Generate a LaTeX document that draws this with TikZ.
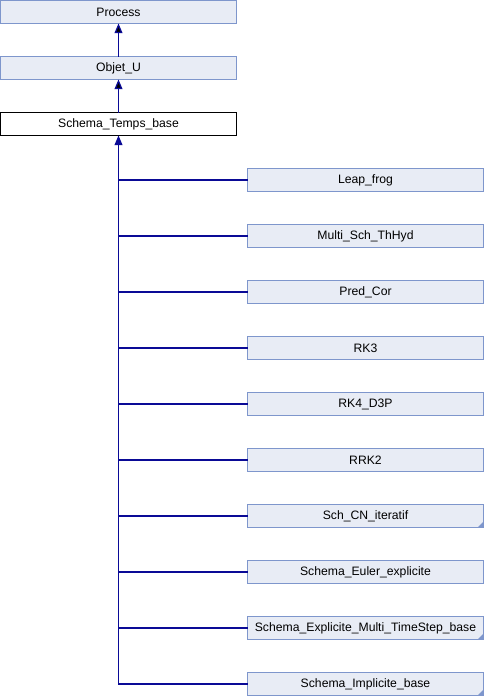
\documentclass[tikz,border=0pt]{standalone}
\usepackage{fontspec}
\setmainfont{Liberation Sans}
\usepackage{xcolor}
\usepackage{tikz}
\usetikzlibrary{arrows}

\definecolor{boxfill}{RGB}{232,236,245}
\definecolor{boxline}{RGB}{126,150,204}
\definecolor{edgeblue}{RGB}{10,10,150}

\tikzset{
	cls/.style={draw=boxline,fill=boxfill,line width=1pt,minimum width=236pt,minimum height=23pt,inner sep=0pt,outer sep=0pt,font=\fontsize{12.2}{14}\selectfont},
	base/.style={cls,draw=black,fill=white},
	trunc/.style={path picture={\fill[boxline] (path picture bounding box.south east) -- ++(-6,0) -- ++(6,-6) -- cycle;}},
	inh/.style={draw=edgeblue,line width=1.2pt},
}

\begin{document}
\begin{tikzpicture}[x=1pt,y=-1pt]
		\useasboundingbox (0,0) rectangle (484,696);
		\node[cls] (P) at (118.5,12) {Process};
		\node[cls] (O) at (118.5,68) {Objet\_U};
		\node[base] (S) at (118.5,124) {Schema\_Temps\_base};
		%
		\node[cls] (LF) at (365.5,180) {Leap\_frog};
		\node[cls] (MS) at (365.5,236) {Multi\_Sch\_ThHyd};
		\node[cls] (PC) at (365.5,292) {Pred\_Cor};
		\node[cls] (R3) at (365.5,348) {RK3};
		\node[cls] (R4) at (365.5,404) {RK4\_D3P};
		\node[cls] (R2) at (365.5,460) {RRK2};
		\node[cls,trunc] (CN) at (365.5,516) {Sch\_CN\_iteratif};
		\node[cls] (EE) at (365.5,572) {Schema\_Euler\_explicite};
		\node[cls,trunc] (EM) at (365.5,628) {Schema\_Explicite\_Multi\_TimeStep\_base};
		\node[cls,trunc] (IB) at (365.5,684) {Schema\_Implicite\_base};
		%
		\path[->,>=triangle 45,inh]
		(O) edge (P)
		(S) edge (O);
		\draw[->,>=triangle 45,inh] (IB.west) -| (S.south);
		\foreach \c in {LF,MS,PC,R3,R4,R2,CN,EE,EM}
		\draw[inh] (\c.west) -- (\c.west -| S.south);
\end{tikzpicture}
\end{document}
